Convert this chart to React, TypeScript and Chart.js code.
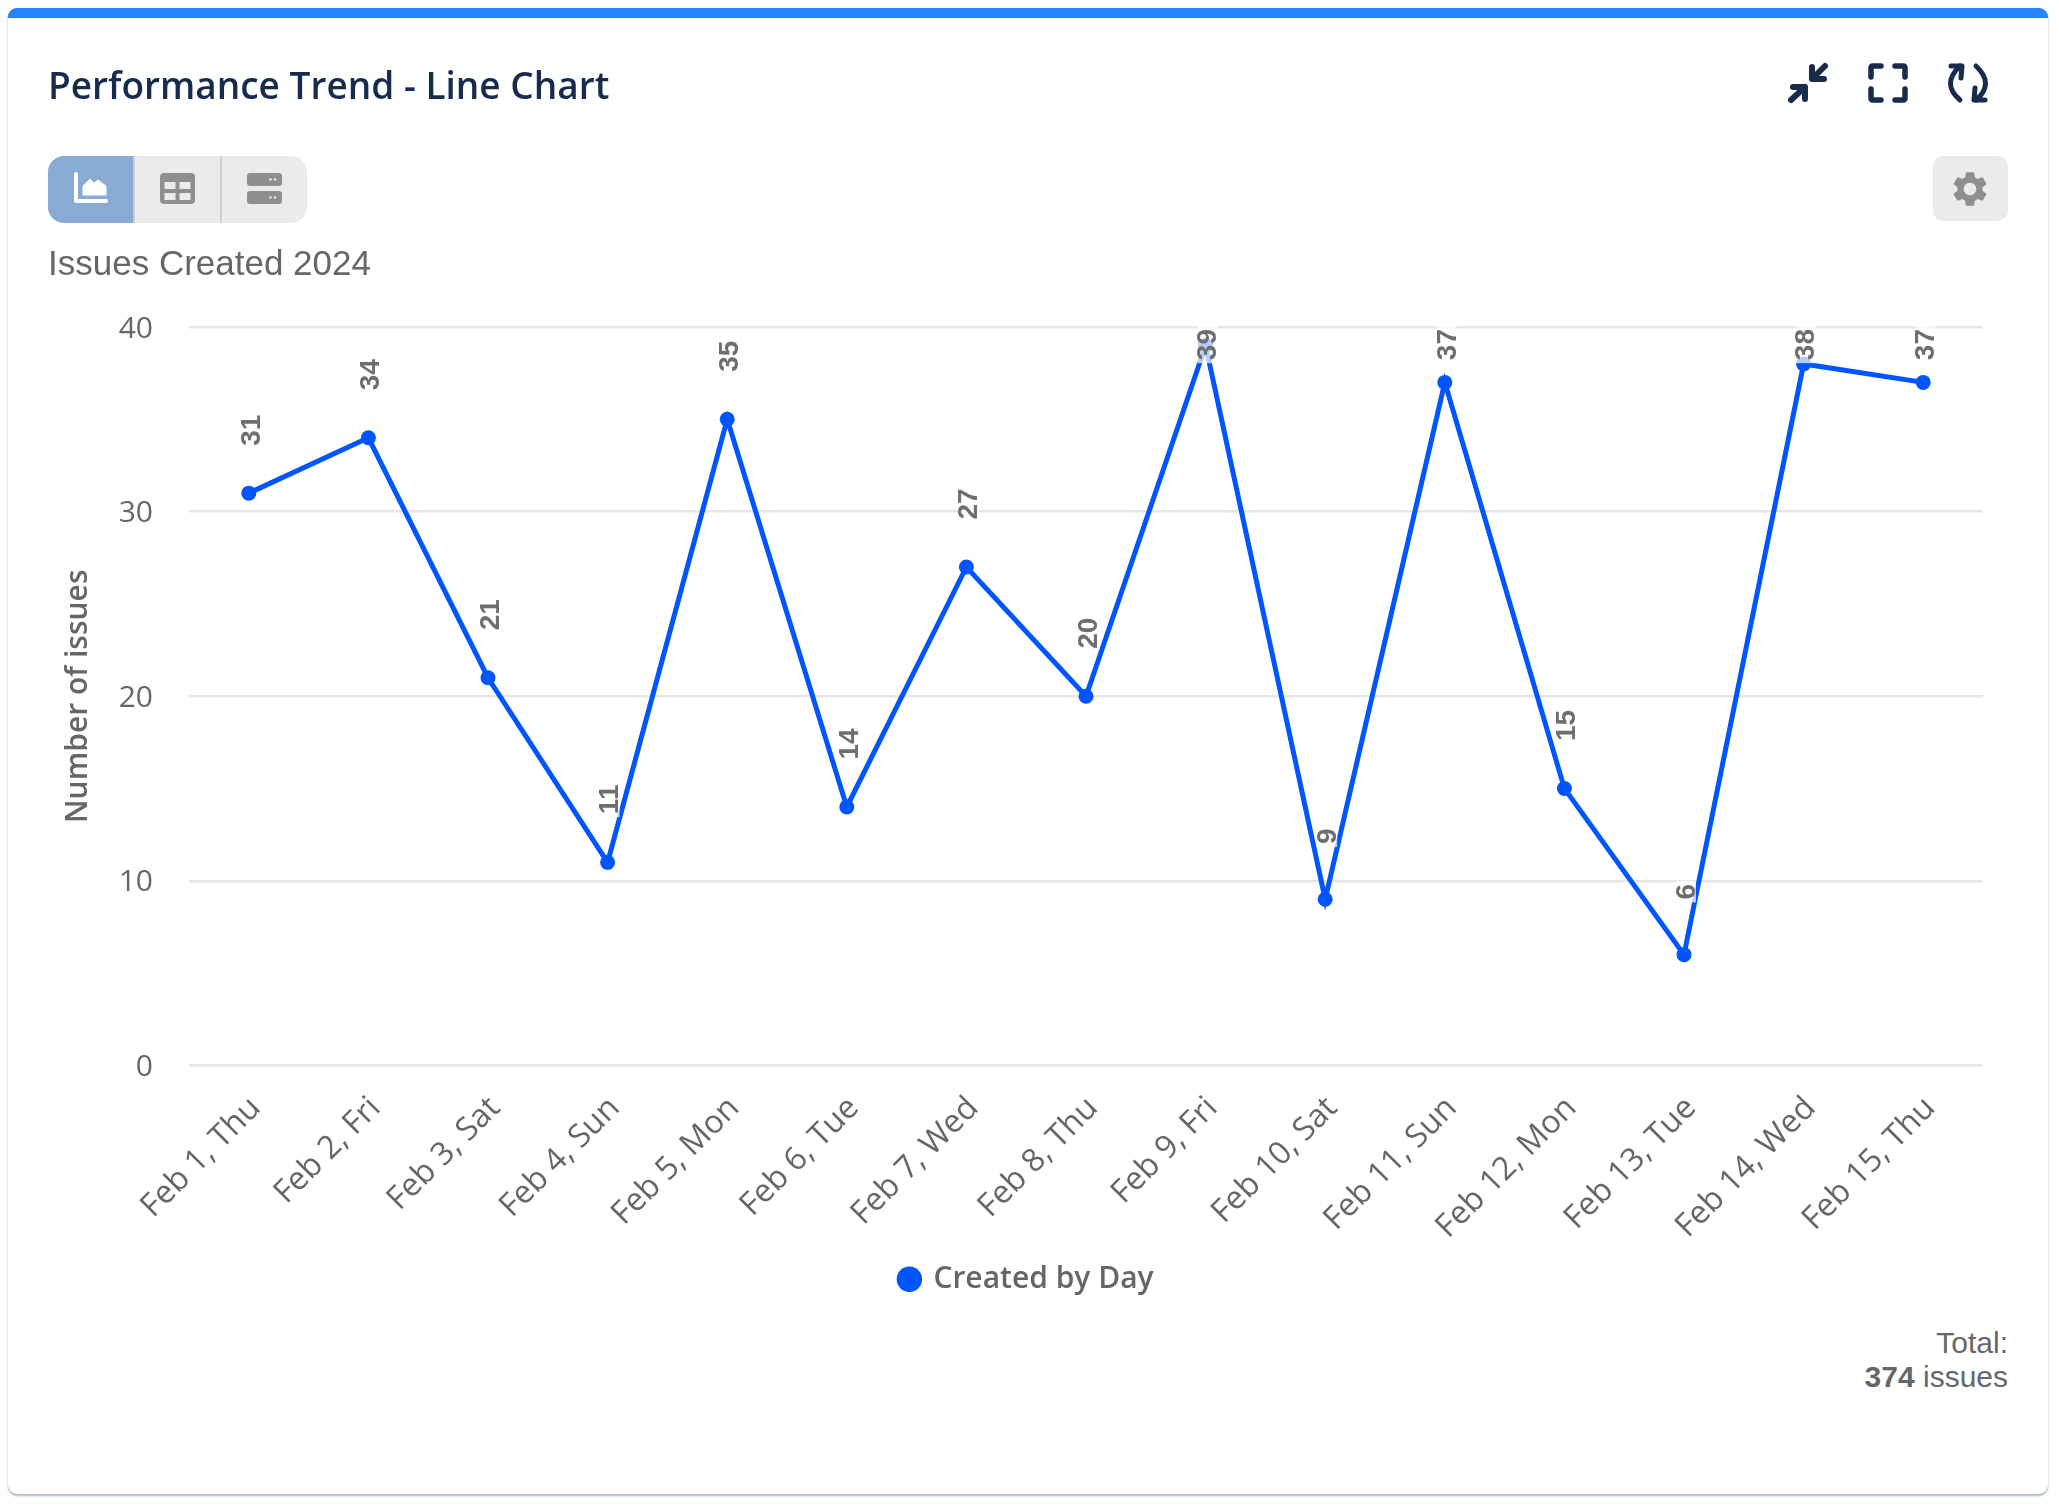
import React, { useEffect, useRef } from "react";
import { Chart, registerables } from "chart.js";

Chart.register(...registerables);

const categories = ["Feb 1, Thu","Feb 2, Fri","Feb 3, Sat","Feb 4, Sun","Feb 5, Mon","Feb 6, Tue","Feb 7, Wed","Feb 8, Thu","Feb 9, Fri","Feb 10, Sat","Feb 11, Sun","Feb 12, Mon","Feb 13, Tue","Feb 14, Wed","Feb 15, Thu"];
const createdByDay = [31,34,21,11,35,14,27,20,39,9,37,15,6,38,37];
const yTicks = [0,10,20,30,40];
const seriesName = "Created by Day";
const yTitle = "Number of issues";
const BLUE = "#0055ff";
const GREY = "#666666";
const NAVY = "#172b4d";
const UI = '"Open Sans", sans-serif';
const ARIAL = '"Liberation Sans", Arial, sans-serif';

const rotatedLabels = {
  id: "rotatedLabels",
  afterDatasetsDraw(chart: any) {
    const { ctx, chartArea } = chart;
    const meta = chart.getDatasetMeta(0);
    ctx.save();
    ctx.font = `bold 28px ${ARIAL}`;
    ctx.textAlign = "center";
    ctx.textBaseline = "middle";
    meta.data.forEach((pt: any, i: number) => {
      const text = String(createdByDay[i]);
      const w = ctx.measureText(text).width;
      const half = w / 2 + 3;
      const cy = Math.max(pt.y - 63, chartArea.top + half - 1);
      ctx.save();
      ctx.translate(pt.x + 2, cy);
      ctx.rotate(-Math.PI / 2);
      ctx.fillStyle = "rgba(255,255,255,0.7)";
      ctx.fillRect(-half, -10, half * 2, 20);
      ctx.fillStyle = "#6e6e6e";
      ctx.fillText(text, 0, 1);
      ctx.restore();
    });
    ctx.restore();
  },
};

const S = (style: React.CSSProperties): React.CSSProperties => ({ position: "absolute", ...style });

export default function App() {
  const ref = useRef<HTMLCanvasElement>(null);
  useEffect(() => {
    const chart = new Chart(ref.current!, {
      type: "line",
      data: {
        labels: categories,
        datasets: [{
          label: seriesName,
          data: createdByDay,
          borderColor: BLUE,
          backgroundColor: BLUE,
          borderWidth: 5,
          pointRadius: 7.5,
          pointBorderWidth: 0,
          pointBackgroundColor: BLUE,
          tension: 0,
          fill: false,
        }],
      },
      options: {
        animation: false,
        responsive: false,
        devicePixelRatio: 1,
        layout: { padding: { left: 63, right: 65, top: 327, bottom: 15.7 } },
        plugins: {
          tooltip: { enabled: false },
          legend: {
            position: "bottom",
            labels: {
              usePointStyle: true,
              pointStyle: "circle",
              boxWidth: 18,
              boxHeight: 18,
              padding: 10,
              color: GREY,
              font: { family: UI, size: 30, weight: "600" },
            },
          },
        },
        scales: {
          x: {
            offset: true,
            grid: { display: false },
            border: { display: false },
            afterFit: (s: any) => { s.height = 188.9; },
            ticks: {
              minRotation: 45,
              maxRotation: 45,
              autoSkip: false,
              padding: 16,
              labelOffset: 7,
              color: GREY,
              font: { family: UI, size: 32 },
            },
          },
          y: {
            min: 0,
            max: 40,
            afterFit: (s: any) => { s.width = 118; },
            afterBuildTicks: (s: any) => { s.ticks = yTicks.map((value) => ({ value })); },
            grid: { color: "#e6e6e6", lineWidth: 2.5, drawTicks: false },
            border: { display: false },
            title: {
              display: true,
              text: yTitle,
              color: GREY,
              padding: { top: -11, bottom: 0 },
              font: { family: UI, size: 30, weight: "600" },
            },
            ticks: { padding: 36, labelOffset: 2, color: GREY, font: { family: UI, size: 30 } },
          },
        },
      },
      plugins: [rotatedLabels],
    } as any);
    return () => chart.destroy();
  }, []);

  return (
    <div style={S({ left: 0, top: 0, width: 2059, height: 1509, overflow: "hidden", background: "#fff" })}>
      <div style={S({ left: 8, top: 8, width: 2040, height: 1486, boxSizing: "border-box", background: "#fff", borderTop: "10px solid #2684ff", borderRadius: 9, boxShadow: "0 2px 2px 0 rgba(110,125,160,.55), 0 0 1px rgba(9,30,66,.3)" })} />
      <canvas ref={ref} width={2040} height={1320} style={S({ left: 8, top: 0, width: 2040, height: 1320 })} />

      <div style={S({ left: 48, top: 60, fontFamily: UI, fontWeight: 600, fontSize: 37, lineHeight: "50px", color: NAVY, whiteSpace: "nowrap" })}>Performance Trend - Line Chart</div>
      <div style={S({ left: 48, top: 243, fontFamily: ARIAL, fontSize: 35, lineHeight: "40px", color: GREY, whiteSpace: "nowrap" })}>Issues Created 2024</div>
      <div style={S({ right: 51, top: 1326, fontFamily: ARIAL, fontSize: 30, lineHeight: "34px", color: GREY, textAlign: "right", whiteSpace: "nowrap" })}>Total:<br /><b>374</b> issues</div>

      {/* view toggle */}
      <div style={S({ left: 48, top: 156, width: 259, height: 67, background: "#ebebeb", borderRadius: 16, overflow: "hidden" })}>
        <div style={S({ left: 0, top: 0, width: 85, height: 67, background: "#88aad3" })} />
        <div style={S({ left: 85, top: 0, width: 2, height: 67, background: "#cfcfcf" })} />
        <div style={S({ left: 172, top: 0, width: 2, height: 67, background: "#cfcfcf" })} />
      </div>
      <svg style={S({ left: 0, top: 0 })} width={2059} height={300} fill="none">
        <path d="M76 174V201H106" stroke="#fff" strokeWidth={4} strokeLinecap="round" strokeLinejoin="round" />
        <path d="M83 195V186L90 179L94 183L98 180L106 186V195Z" fill="#fff" stroke="#fff" strokeWidth={1} strokeLinejoin="round" />
        <rect x={160} y={173} width={35} height={31} rx={4} fill="#8f8f8f" />
        <g fill="#ebebeb">
          <rect x={164.5} y={182} width={11} height={7} /><rect x={179.5} y={182} width={11} height={7} />
          <rect x={164.5} y={193} width={11} height={7} /><rect x={179.5} y={193} width={11} height={7} />
        </g>
        <rect x={247} y={173} width={35} height={13} rx={3} fill="#8f8f8f" />
        <rect x={247} y={191} width={35} height={13} rx={3} fill="#8f8f8f" />
        <g fill="#ebebeb">
          <circle cx={270.5} cy={179.5} r={1.3} /><circle cx={275} cy={179.5} r={1.3} />
          <circle cx={270.5} cy={197.5} r={1.3} /><circle cx={275} cy={197.5} r={1.3} />
        </g>
        {/* header icons */}
        <g stroke={NAVY} strokeWidth={6} strokeLinecap="round" strokeLinejoin="round">
          <path d="M1812 67V79H1824M1812 79L1825 66" />
          <path d="M1805 99V87H1793M1805 87L1791 100" />
          <path d="M1871 77V68Q1871 66 1873 66H1881M1895 66H1903Q1905 66 1905 68V77M1905 89V98Q1905 100 1903 100H1895M1881 100H1873Q1871 100 1871 98V89" strokeWidth={5.5} />
          <path d="M1960 66Q1941 84 1960 100" strokeWidth={5} />
          <path d="M1976 66Q1995 84 1976 100" strokeWidth={5} />
          <path d="M1951 66H1962L1961 78" strokeWidth={5} />
          <path d="M1985 100H1974L1975 88" strokeWidth={5} />
        </g>
        {/* settings */}
        <rect x={1933} y={156} width={75} height={65} rx={10} fill="#ebebeb" />
        <path transform="translate(1949 168) scale(1.75)" fill="#8f8f8f" d="M19.14 12.94c.04-.3.06-.61.06-.94 0-.32-.02-.64-.07-.94l2.03-1.58c.18-.14.23-.41.12-.61l-1.92-3.32c-.12-.22-.37-.29-.59-.22l-2.39.96c-.5-.38-1.03-.7-1.62-.94l-.36-2.54c-.04-.24-.24-.41-.48-.41h-3.84c-.24 0-.43.17-.47.41l-.36 2.54c-.59.24-1.13.57-1.62.94l-2.39-.96c-.22-.08-.47 0-.59.22L2.74 8.87c-.12.21-.08.47.12.61l2.03 1.58c-.05.3-.09.63-.09.94s.02.64.07.94l-2.03 1.58c-.18.14-.23.41-.12.61l1.92 3.32c.12.22.37.29.59.22l2.39-.96c.5.38 1.03.7 1.62.94l.36 2.54c.05.24.24.41.48.41h3.84c.24 0 .44-.17.47-.41l.36-2.54c.59-.24 1.13-.56 1.62-.94l2.39.96c.22.08.47 0 .59-.22l1.92-3.32c.12-.22.07-.47-.12-.61l-2.01-1.58zM12 15.6c-1.98 0-3.6-1.62-3.6-3.6s1.62-3.6 3.6-3.6 3.6 1.62 3.6 3.6-1.62 3.6-3.6 3.6z" />
      </svg>
    </div>
  );
}
